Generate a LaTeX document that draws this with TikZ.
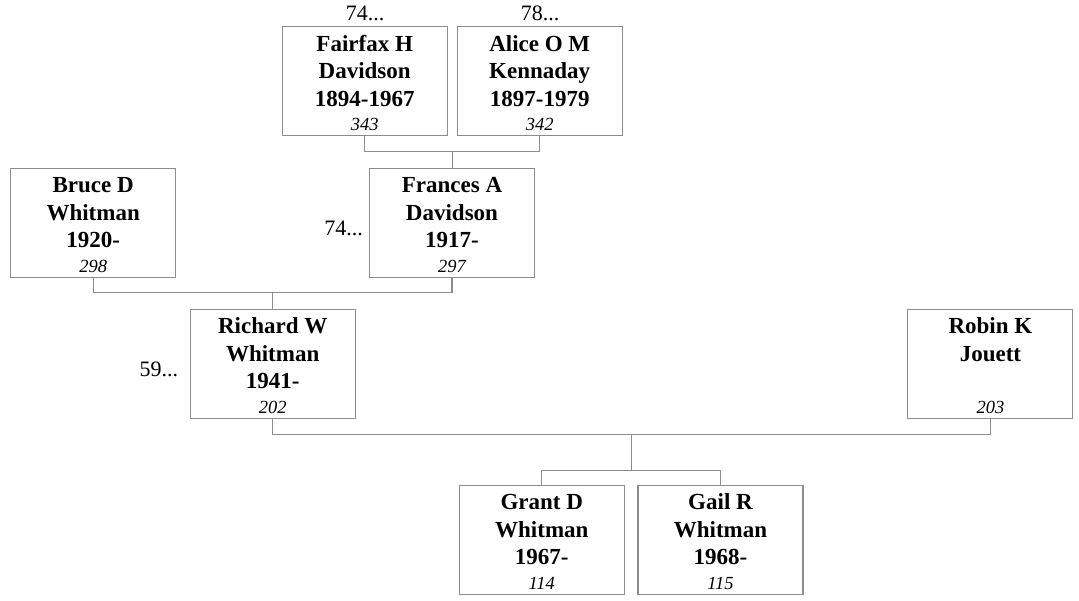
\documentclass[tikz,border=0pt]{standalone}
\usepackage{fontspec}
\setmainfont{Liberation Serif}
\usetikzlibrary{calc}
\definecolor{boxgray}{RGB}{140,140,140}
\tikzset{
 pbox/.style={draw=boxgray, line width=1.1pt, minimum width=165pt, minimum height=109pt, inner sep=0pt, outer sep=0pt},
 nm/.style={font=\fontsize{23}{27}\selectfont\bfseries, anchor=base, inner sep=0pt},
 num/.style={font=\fontsize{18.5}{22}\selectfont\itshape, anchor=base, inner sep=0pt},
 reflbl/.style={font=\fontsize{22}{26}\selectfont, inner sep=0pt},
 conn/.style={draw=boxgray, line width=1.1pt}
}
\newcommand\personbox[7]{%
 \node[pbox] (#1) at (#2,#3) {};
 \node[nm] (#1-a) at ($(#1.north)+(0,24.5)$) {#4};
 \node[nm] (#1-b) at ($(#1.north)+(0,52)$) {#5};
 \node[nm] (#1-c) at ($(#1.north)+(0,79.5)$) {#6};
 \node[num] (#1-n) at ($(#1.north)+(0,104)$) {#7};
}
\begin{document}
\begin{tikzpicture}[x=1pt,y=-1pt]
\useasboundingbox (0,0) rectangle (1079,600);
\personbox{fair}{364.7}{81.3}{Fairfax H}{Davidson}{1894-1967}{343}
\personbox{alice}{539.7}{81.3}{Alice O M}{Kennaday}{1897-1979}{342}
\personbox{bruce}{93.2}{222.6}{Bruce D}{Whitman}{1920-}{298}
\personbox{fran}{452}{222.6}{Frances A}{Davidson}{1917-}{297}
\personbox{rich}{272.7}{363.8}{Richard W}{Whitman}{1941-}{202}
\node[pbox] (robin) at (990.4,363.8) {};
\node[nm] (robin-a) at ($(robin.north)+(0,24.5)$) {Robin K};
\node[nm] (robin-b) at ($(robin.north)+(0,52)$) {Jouett};
\node[num] (robin-n) at ($(robin.north)+(0,104)$) {203};
\personbox{grant}{541.8}{539.7}{Grant D}{Whitman}{1967-}{114}
\personbox{gail}{720.5}{539.7}{Gail R}{Whitman}{1968-}{115}

% reference labels
\node[reflbl, anchor=base] (l74a) at (365,20.7) {74...};
\node[reflbl, anchor=base] (l78) at (540,20.7) {78...};
\node[reflbl, anchor=base east] (l74b) at (363,235) {74...};
\node[reflbl, anchor=base east] (l59) at (178.3,376.5) {59...};

% connectors
\draw[conn] (fair.south) -- ++(0,15.7) -| (alice.south);
\coordinate (fa) at ($(fair.south)!0.5!(alice.south)+(0,15.7)$);
\draw[conn] (fa) -- (fa |- fran.north);
\draw[conn] (bruce.south) -- ++(0,15.4) -| (fran.south);
\coordinate (bf) at ($(bruce.south)!0.5!(fran.south)+(0,15.4)$);
\draw[conn] (bf) -- (bf |- rich.north);
\draw[conn] (rich.south) -- ++(0,16) -| (robin.south);
\coordinate (rr) at ($(rich.south)!0.5!(robin.south)+(0,16)$);
\coordinate (kb) at ($(grant.north)!0.5!(gail.north)+(0,-15)$);
\draw[conn] (rr) -- (rr |- kb);
\draw[conn] (grant.north) -- ++(0,-15) -| (gail.north);
\end{tikzpicture}
\end{document}
